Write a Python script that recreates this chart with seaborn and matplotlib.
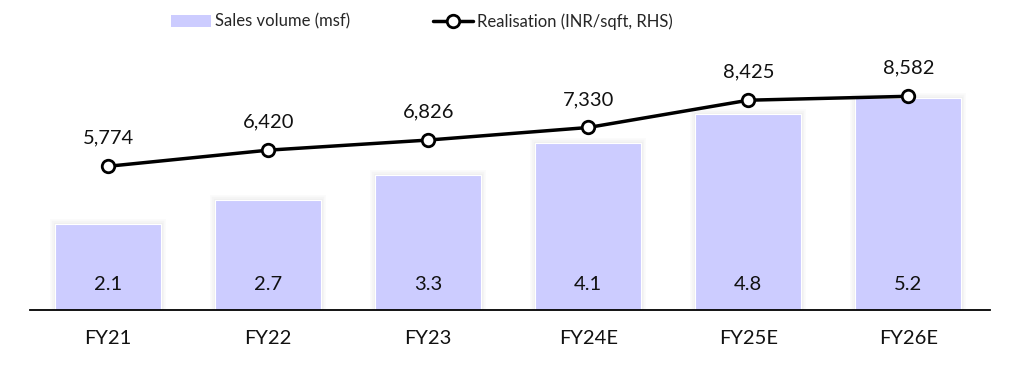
import matplotlib
matplotlib.use("Agg")
import matplotlib.pyplot as plt
import matplotlib.patheffects as pe
from matplotlib.lines import Line2D
from matplotlib.patches import Patch
import seaborn as sns
import pandas as pd

# Data
years = ["FY21", "FY22", "FY23", "FY24E", "FY25E", "FY26E"]
sales_volume = [2.1, 2.7, 3.3, 4.1, 4.8, 5.2]
realisation = [5774, 6420, 6826, 7330, 8425, 8582]

df = pd.DataFrame({"year": years, "volume": sales_volume, "real": realisation})

sns.set_theme(style="white")
plt.rcParams["font.family"] = ["Lato", "DejaVu Sans"]

bar_color = "#CCCCFF"
fs = 14.5

fig = plt.figure(figsize=(10.29, 3.67), dpi=100)
ax = fig.add_axes([0.029, 0.155, 0.933, 0.668])

sns.barplot(data=df, x="year", y="volume", color=bar_color, width=0.66,
            saturation=1, ax=ax, edgecolor="white", linewidth=0.8)
# soft glow around each bar
glow = [pe.Stroke(linewidth=w, foreground="black", alpha=0.018) for w in (7, 4.5, 2.5)]
for p in ax.patches:
    p.set_path_effects(glow + [pe.Normal()])

ax.set_ylim(0, 6)
ax.set_xlim(-0.49, 5.51)
ax.set_xlabel("")
ax.set_ylabel("")
ax.set_yticks([])
ax.tick_params(axis="x", length=0, labelsize=fs, pad=14, colors="#111111")
for s in ["top", "left", "right"]:
    ax.spines[s].set_visible(False)
ax.spines["bottom"].set_color("black")
ax.spines["bottom"].set_linewidth(1.3)
ax.spines["bottom"].set_zorder(10)

for i, v in enumerate(sales_volume):
    ax.text(i, 0.62, f"{v:.1f}", ha="center", va="center", fontsize=fs, color="#111111")

ax2 = ax.twinx()
sns.lineplot(x=list(range(len(years))), y=realisation, ax=ax2, color="black",
             linewidth=2.5, marker="o", markersize=9, markerfacecolor="white",
             markeredgecolor="black", markeredgewidth=2, zorder=5)
ax2.set_ylim(0, 9840)
ax2.set_yticks([])
ax2.set_ylabel("")
for s in ["top", "left", "right", "bottom"]:
    ax2.spines[s].set_visible(False)

for i, v in enumerate(realisation):
    ax2.annotate(f"{v:,}", (i, v), xytext=(0, 14), textcoords="offset points",
                 ha="center", va="bottom", fontsize=fs, color="#111111")

handles = [
    Patch(facecolor=bar_color, edgecolor="none", label="Sales volume (msf)"),
    Line2D([0], [0], color="black", linewidth=2.5, marker="o", markersize=9,
           markerfacecolor="white", markeredgecolor="black", markeredgewidth=2,
           label="Realisation (INR/sqft, RHS)"),
]
fig.legend(handles=handles, loc="upper center", bbox_to_anchor=(0.41, 1.005), ncol=2,
           frameon=False, fontsize=12, handlelength=2.4, handletextpad=0.2,
           columnspacing=5.0, handleheight=0.8)

fig.savefig("out.png", dpi=100)
